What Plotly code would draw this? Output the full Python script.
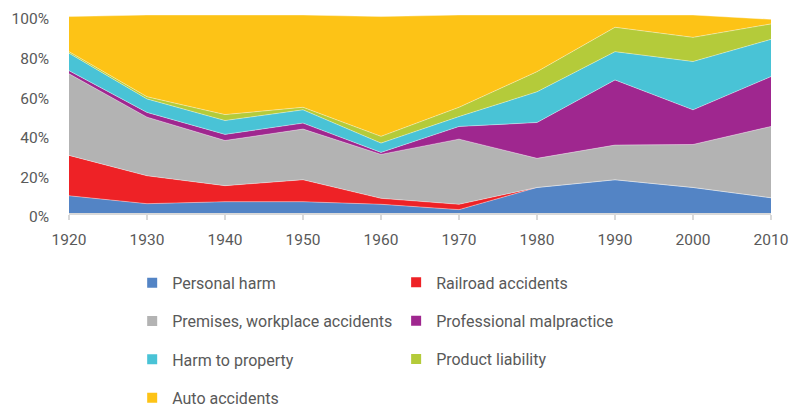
import plotly.graph_objects as go

years = [1920, 1930, 1940, 1950, 1960, 1970, 1980, 1990, 2000, 2010]

personal_harm = [8.7, 4.7, 5.7, 5.7, 4.4, 1.7, 12.9, 16.8, 12.9, 7.7]
railroad = [20.4, 14.1, 8.1, 11.1, 3.0, 2.7, 0.0, 0.0, 0.0, 0.0]
premises = [41.2, 29.6, 22.8, 25.6, 22.2, 32.9, 14.7, 17.5, 21.7, 36.0]
malpractice = [1.6, 2.4, 3.1, 3.0, 1.0, 6.4, 18.1, 32.9, 17.5, 25.2]
property_harm = [8.8, 6.8, 7.0, 6.7, 4.7, 5.0, 15.5, 14.3, 24.4, 18.8]
product_liability = [0.8, 1.1, 3.0, 1.3, 3.4, 4.7, 10.2, 12.3, 12.2, 7.8]
auto = [17.7, 41.3, 50.3, 46.6, 60.5, 46.6, 28.6, 6.2, 11.3, 2.3]

series_names = ["Personal harm", "Railroad accidents", "Premises, workplace accidents",
                "Professional malpractice", "Harm to property", "Product liability",
                "Auto accidents"]
series_values = [personal_harm, railroad, premises, malpractice, property_harm,
                 product_liability, auto]
colors = ["#5384C5", "#EE2226", "#B3B3B3", "#9F278F", "#49C3D6", "#B4CB3A", "#FDC316"]
legend_ids = ["legend", "legend2", "legend", "legend2", "legend", "legend2", "legend"]

y_ticks = [0, 20, 40, 60, 80, 100]
y_tick_labels = ["0%", "20%", "40%", "60%", "80%", "100%"]
x_tick_labels = [str(y) for y in years]

FONT = "Roboto, 'Liberation Sans', sans-serif"
TXT = "#595959"

fig = go.Figure()
for name, vals, col in zip(series_names, series_values, colors):
    fig.add_trace(go.Scatter(
        x=years, y=vals, name=name, stackgroup="one", mode="lines",
        line=dict(width=0.7, color="rgba(255,255,255,0.55)"),
        fillcolor=col, showlegend=False, hoverinfo="x+y+name"))

for name, col, lg in zip(series_names, colors, legend_ids):
    fig.add_trace(go.Scatter(
        x=[None], y=[None], mode="markers", name=name, legend=lg, legendgroup=name,
        marker=dict(symbol="square", size=10, color=col, line=dict(width=0))))

legend_common = dict(orientation="v", yanchor="top", xanchor="left",
                     font=dict(family=FONT, size=16, color=TXT),
                     bgcolor="rgba(0,0,0,0)", tracegroupgap=14.5,
                     itemwidth=30, traceorder="grouped")

# the page body has an 8px margin, so the figure is drawn 8px smaller
fig.update_layout(
    width=789, height=399,
    margin=dict(l=61, r=26, t=7, b=193.5, autoexpand=False),
    paper_bgcolor="white", plot_bgcolor="white",
    font=dict(family=FONT, size=16, color=TXT),
    legend=dict(x=0.09, y=-0.267, **legend_common),
    legend2=dict(x=0.466, y=-0.265, **legend_common),
    xaxis=dict(range=[1920, 2010], tickmode="array", tickvals=years,
               ticktext=x_tick_labels, ticks="outside", ticklen=5,
               tickwidth=2, tickcolor="#D9D9D9", showline=True, linecolor="#D9D9D9",
               linewidth=2, showgrid=False, zeroline=False, ticklabelstandoff=6,
               tickfont=dict(family=FONT, size=15.5, color=TXT), automargin=False),
    yaxis=dict(range=[0, 100], tickmode="array", tickvals=y_ticks,
               ticktext=y_tick_labels, showgrid=True,
               gridcolor="#E3E3E3", gridwidth=2, zeroline=False, showline=False,
               ticks="", ticklabelstandoff=19, automargin=False,
               ticklabeloverflow="allow", ticklabelshift=4,
               tickfont=dict(family=FONT, size=15.5, color=TXT)),
)

fig.write_html("out.html")
